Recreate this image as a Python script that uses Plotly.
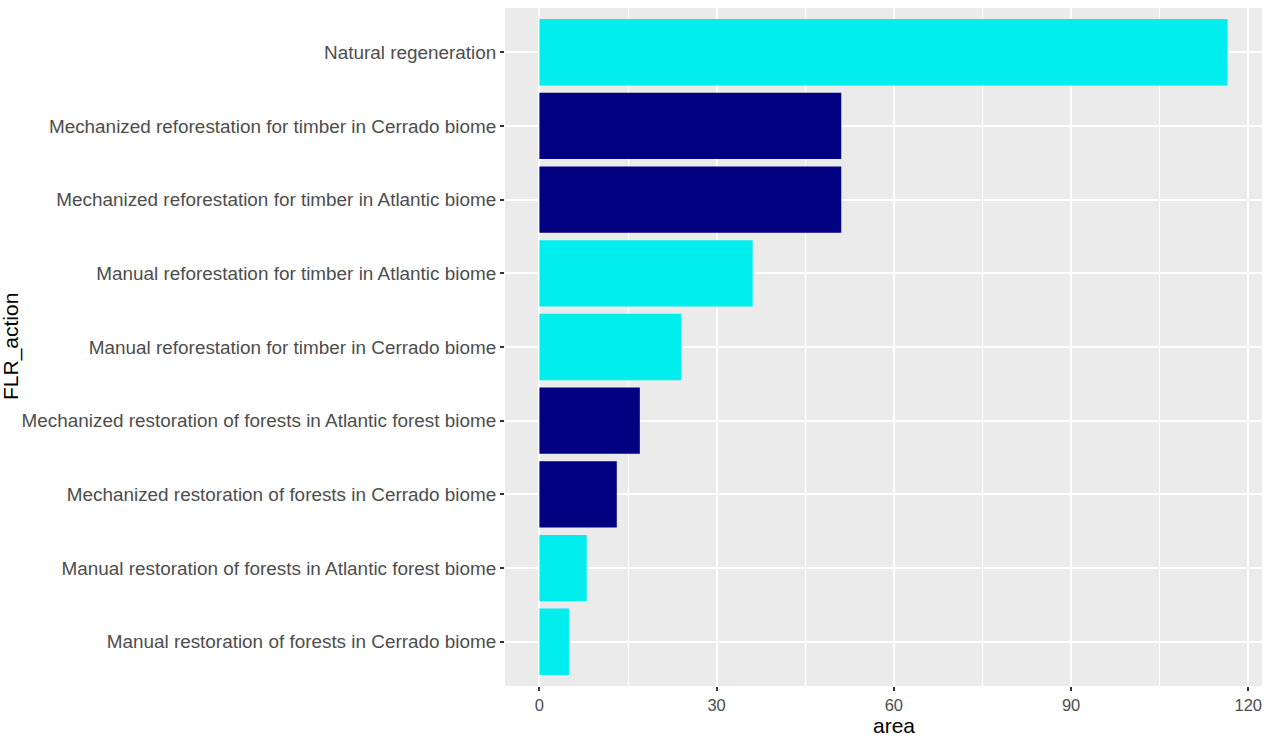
import plotly.graph_objects as go

categories = [
    "Manual restoration of forests in Cerrado biome",
    "Manual restoration of forests in Atlantic forest biome",
    "Mechanized restoration of forests in Cerrado biome",
    "Mechanized restoration of forests in Atlantic forest biome",
    "Manual reforestation for timber in Cerrado biome",
    "Manual reforestation for timber in Atlantic biome",
    "Mechanized reforestation for timber in Atlantic biome",
    "Mechanized reforestation for timber in Cerrado biome",
    "Natural regeneration",
]
area = [5.0, 8.0, 13.1, 17.0, 24.0, 36.1, 51.1, 51.1, 116.5]
kind = ["Manual", "Manual", "Mechanized", "Mechanized", "Manual", "Manual",
        "Mechanized", "Mechanized", "Manual"]
tick_vals = [0, 30, 60, 90, 120]

color_map = {"Manual": "#00EEEE", "Mechanized": "#000080"}
colors = [color_map[k] for k in kind]

fig = go.Figure(go.Bar(
    x=area, y=categories, orientation="h",
    marker=dict(color=colors, line=dict(width=0)),
    width=0.9, showlegend=False,
))

xmax = max(area)
pad = 0.05 * xmax
fig.update_layout(
    width=1265, height=737,
    margin=dict(l=505, r=3, t=8, b=51, autoexpand=False),
    paper_bgcolor="white",
    plot_bgcolor="#EBEBEB",
    font=dict(family="Liberation Sans, Arial, sans-serif", color="#4D4D4D"),
    xaxis=dict(
        range=[-pad, xmax + pad],
        tickvals=tick_vals,
        ticks="outside", ticklen=4, tickwidth=1.5, tickcolor="#333333",
        tickfont=dict(size=16.5, color="#4D4D4D"),
        showgrid=True, gridcolor="white", gridwidth=1.6,
        minor=dict(dtick=15, tick0=0, showgrid=True, gridcolor="white", gridwidth=0.8),
        zeroline=False, showline=False, automargin=False,
    ),
    yaxis=dict(
        range=[-0.6, len(categories) - 0.4],
        ticks="outside", ticklen=4, tickwidth=1.5, tickcolor="#333333",
        tickfont=dict(size=18.9, color="#4D4D4D"),
        showgrid=True, gridcolor="white", gridwidth=1.6,
        zeroline=False, showline=False, automargin=False,
    ),
    annotations=[
        dict(
            text="FLR_action", textangle=-90, xref="paper", yref="paper",
            x=0, y=0.5, xshift=-494, xanchor="center", yanchor="middle",
            showarrow=False, font=dict(size=21, color="black"),
        ),
        dict(
            text="area", xref="x", yref="paper",
            x=60, y=0, yshift=-39, xanchor="center", yanchor="middle",
            showarrow=False, font=dict(size=21, color="black"),
        ),
    ],
)

fig.write_html(
    "out.html",
    config={"displayModeBar": False},
    post_script="document.body.style.margin='0';document.body.style.overflow='hidden';",
)
